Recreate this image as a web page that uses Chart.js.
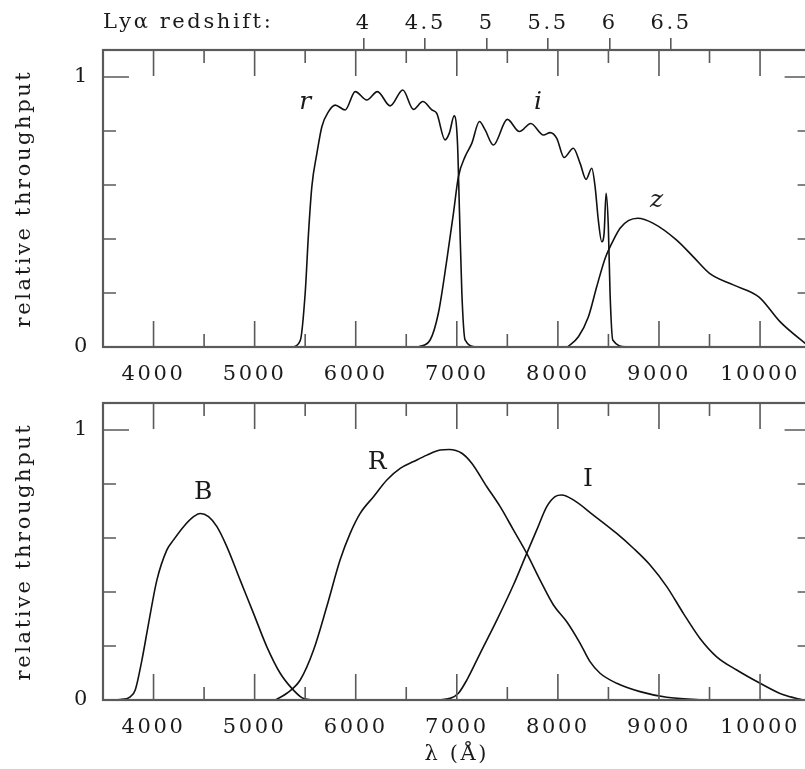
<!DOCTYPE html>
<html>
<head>
<meta charset="utf-8">
<script src="https://cdn.jsdelivr.net/npm/chart.js@4.4.0/dist/chart.umd.min.js"></script>
<style>
    html, body { margin: 0; padding: 0; background: #fff; overflow: hidden; width: 805px; height: 769px; }
    canvas { position: absolute; left: 0; }
    #top-chart { top: 0; }
    #bottom-chart { top: 385px; }
</style>
</head>
<body>
<canvas id="top-chart" width="830" height="385"></canvas>
<canvas id="bottom-chart" width="830" height="384"></canvas>
<script>
// SDSS-like filters (top panel)
var rWave = [5380, 5453, 5500, 5533, 5566, 5616, 5665, 5731, 5797, 5896, 5995, 6110, 6215, 6341, 6466, 6571, 6664, 6753, 6802, 6884, 6927, 6974, 7007, 7026, 7050, 7082, 7190];
var rThru = [0, 0.026, 0.199, 0.421, 0.594, 0.717, 0.816, 0.872, 0.896, 0.878, 0.946, 0.915, 0.946, 0.893, 0.952, 0.880, 0.909, 0.878, 0.865, 0.767, 0.793, 0.856, 0.754, 0.507, 0.2, 0.026, 0];

var iWave = [6621, 6736, 6818, 6901, 6967, 7016, 7082, 7148, 7224, 7280, 7362, 7500, 7619, 7732, 7857, 7923, 7989, 8061, 8153, 8220, 8279, 8335, 8368, 8400, 8434, 8457, 8477, 8499, 8516, 8543, 8681];
var iThru = [0, 0.026, 0.126, 0.322, 0.496, 0.631, 0.705, 0.754, 0.835, 0.804, 0.748, 0.843, 0.798, 0.828, 0.785, 0.794, 0.773, 0.702, 0.736, 0.68, 0.621, 0.662, 0.594, 0.47, 0.39, 0.42, 0.569, 0.446, 0.2, 0.026, 0];

var zWave = [8094, 8203, 8302, 8384, 8467, 8549, 8615, 8697, 8790, 8944, 9175, 9340, 9500, 9735, 9990, 10197, 10490];
var zThru = [0, 0.038, 0.112, 0.223, 0.328, 0.396, 0.44, 0.468, 0.477, 0.458, 0.396, 0.334, 0.273, 0.23, 0.185, 0.094, 0];

// Johnson-Cousins filters (bottom panel)
var bWave = [3505, 3670, 3770, 3819, 3885, 3951, 4033, 4132, 4198, 4297, 4396, 4462, 4544, 4627, 4725, 4857, 4989, 5121, 5253, 5368, 5467, 5550];
var bThru = [0, 0.002, 0.012, 0.037, 0.148, 0.284, 0.444, 0.556, 0.593, 0.642, 0.679, 0.691, 0.679, 0.642, 0.568, 0.444, 0.321, 0.197, 0.099, 0.043, 0.009, 0];

var bigRWave = [5203, 5319, 5451, 5583, 5714, 5846, 5945, 6044, 6176, 6308, 6440, 6572, 6704, 6835, 6925, 7050, 7148, 7297, 7429, 7560, 7692, 7824, 7956, 8088, 8220, 8318, 8417, 8582, 8813, 9077, 9450];
var bigRThru = [0, 0.025, 0.074, 0.185, 0.346, 0.519, 0.617, 0.691, 0.753, 0.815, 0.858, 0.883, 0.907, 0.926, 0.928, 0.914, 0.877, 0.79, 0.716, 0.63, 0.543, 0.444, 0.352, 0.29, 0.21, 0.142, 0.099, 0.062, 0.031, 0.01, 0];

var bigIWave = [6802, 6934, 7016, 7099, 7231, 7396, 7560, 7692, 7791, 7890, 7972, 8038, 8153, 8351, 8582, 8747, 8912, 9077, 9241, 9406, 9571, 9769, 10000, 10231, 10428];
var bigIThru = [0, 0.006, 0.025, 0.074, 0.173, 0.296, 0.426, 0.543, 0.63, 0.716, 0.753, 0.759, 0.741, 0.685, 0.617, 0.562, 0.5, 0.42, 0.321, 0.228, 0.16, 0.111, 0.062, 0.019, 0];

// axes
var xMajorTicks = [4000, 5000, 6000, 7000, 8000, 9000, 10000];
var xMinorTicks = [4500, 5500, 6500, 7500, 8500, 9500];
var yMajorTicks = [0, 1];
var yMinorTicks = [0.2, 0.4, 0.6, 0.8];
var redshiftTicks = [4, 4.5, 5, 5.5, 6, 6.5];
var lymanAlpha = 1216;

// curve names
var topNames = [
    { text: "r", x: 5500, y: 0.904, italic: true },
    { text: "i", x: 7804, y: 0.904, italic: true },
    { text: "z", x: 8977, y: 0.544, italic: true }
];
var bottomNames = [
    { text: "B", x: 4491, y: 0.767 },
    { text: "R", x: 6212, y: 0.881 },
    { text: "I", x: 8298, y: 0.815 }
];

var serif = "'DejaVu Serif', 'Liberation Serif', serif";
var fontSize = 21;
var inkColor = "#1a1a1a";
var frameColor = "#5a5a5a";
var textSpacing = "2.6px";

//fix an axis box to an exact size
function fixBox(size, isWidth) {
    return function(scale) {
        if (isWidth) {
            scale.width = size;
        } else {
            scale.height = size;
        }
        scale.paddingTop = 0;
        scale.paddingBottom = 0;
        scale.paddingLeft = 0;
        scale.paddingRight = 0;
    };
}

function setTicks(values) {
    return function(scale) {
        scale.ticks = values.map(function(v) { return { value: v }; });
    };
}

function plainNumber(value) {
    return String(value);
}

function curve(wave, thru) {
    return {
        data: wave.map(function(w, i) { return { x: w, y: thru[i] }; }),
        borderColor: "#111",
        borderWidth: 1.6,
        pointRadius: 0,
        fill: false,
        cubicInterpolationMode: "monotone"
    };
}

//wide lettering like the original plot
var spacingPlugin = {
    id: "spacing",
    beforeUpdate: function(chart) { chart.ctx.letterSpacing = textSpacing; },
    beforeDraw: function(chart) { chart.ctx.letterSpacing = textSpacing; }
};

//frame and inward ticks on all four sides
var framePlugin = {
    id: "frame",
    afterDatasetsDraw: function(chart) {
        var ctx = chart.ctx;
        var a = chart.chartArea;
        var xs = chart.scales.x;
        var ys = chart.scales.y;
        ctx.save();
        ctx.strokeStyle = frameColor;
        ctx.lineWidth = 1.6;
        ctx.beginPath();
        function xTick(v, len) {
            var px = xs.getPixelForValue(v);
            ctx.moveTo(px, a.bottom); ctx.lineTo(px, a.bottom - len);
            ctx.moveTo(px, a.top); ctx.lineTo(px, a.top + len);
        }
        function yTick(v, len) {
            var py = ys.getPixelForValue(v);
            ctx.moveTo(a.left, py); ctx.lineTo(a.left + len, py);
            ctx.moveTo(a.right, py); ctx.lineTo(a.right - len, py);
        }
        xMajorTicks.forEach(function(v) { xTick(v, 26); });
        xMinorTicks.forEach(function(v) { xTick(v, 13); });
        yMajorTicks.forEach(function(v) { yTick(v, 26); });
        yMinorTicks.forEach(function(v) { yTick(v, 13); });
        ctx.stroke();
        ctx.lineWidth = 2.2;
        ctx.strokeRect(a.left, a.top, a.right - a.left, a.bottom - a.top);
        ctx.restore();
    }
};

function namesPlugin(names, extra) {
    return {
        id: "names",
        afterDatasetsDraw: function(chart) {
            var ctx = chart.ctx;
            var xs = chart.scales.x;
            var ys = chart.scales.y;
            ctx.save();
            ctx.letterSpacing = "0px";
            ctx.fillStyle = inkColor;
            ctx.textAlign = "center";
            ctx.textBaseline = "middle";
            names.forEach(function(n) {
                ctx.font = (n.italic ? "italic " : "") + "25px " + serif;
                ctx.fillText(n.text, xs.getPixelForValue(n.x), ys.getPixelForValue(n.y));
            });
            if (extra) {
                extra(chart, ctx);
            }
            ctx.restore();
        }
    };
}

function baseScales(xHeight, xTitle) {
    return {
        x: {
            type: "linear",
            position: "bottom",
            min: 3500,
            max: 10500,
            afterBuildTicks: setTicks(xMajorTicks),
            afterFit: fixBox(xHeight, false),
            grid: { display: false, drawTicks: false },
            border: { display: false },
            ticks: { padding: 15, color: inkColor, font: { family: serif, size: fontSize }, maxRotation: 0, autoSkip: false, callback: plainNumber },
            title: {
                display: !!xTitle,
                text: xTitle || "",
                color: inkColor,
                font: { family: serif, size: fontSize },
                padding: { top: 0, bottom: 2 }
            }
        },
        y: {
            type: "linear",
            position: "left",
            min: 0,
            max: 1.1,
            afterBuildTicks: setTicks(yMajorTicks),
            afterFit: fixBox(103, true),
            grid: { display: false, drawTicks: false },
            border: { display: false },
            ticks: { padding: 13, color: inkColor, font: { family: serif, size: fontSize }, callback: plainNumber },
            title: {
                display: true,
                text: "relative throughput",
                color: inkColor,
                font: { family: serif, size: fontSize },
                padding: { top: 12, bottom: 0 }
            }
        }
    };
}

//init top chart
function initTopChart(el) {
    var scales = baseScales(38);
    scales.x2 = {
        type: "linear",
        position: "top",
        min: 3500,
        max: 10500,
        afterBuildTicks: setTicks(redshiftTicks.map(function(z) { return lymanAlpha * (1 + z); })),
        afterFit: fixBox(50, false),
        grid: { display: true, drawOnChartArea: false, drawTicks: true, tickLength: 12, color: frameColor, lineWidth: 1.6 },
        border: { display: false },
        ticks: {
            padding: 2,
            color: inkColor,
            font: { family: serif, size: fontSize },
            maxRotation: 0,
            autoSkip: false,
            callback: function(value, index) { return String(redshiftTicks[index]); }
        }
    };
    return new Chart(el, {
        type: "line",
        data: {
            datasets: [curve(rWave, rThru), curve(iWave, iThru), curve(zWave, zThru)]
        },
        options: {
            responsive: false,
            animation: false,
            layout: { padding: { left: 0, top: 0, right: 19.4, bottom: 0 } },
            plugins: { legend: { display: false }, tooltip: { enabled: false } },
            scales: scales
        },
        plugins: [spacingPlugin, framePlugin, namesPlugin(topNames, function(chart, ctx) {
            ctx.font = fontSize + "px " + serif;
            ctx.letterSpacing = textSpacing;
            ctx.textAlign = "left";
            ctx.fillText("Ly\u03b1 redshift:", chart.chartArea.left, chart.chartArea.top - 27);
        })]
    });
}

//init bottom chart
function initBottomChart(el) {
    return new Chart(el, {
        type: "line",
        data: {
            datasets: [curve(bWave, bThru), curve(bigRWave, bigRThru), curve(bigIWave, bigIThru)]
        },
        options: {
            responsive: false,
            animation: false,
            layout: { padding: { left: 0, top: 18, right: 19.4, bottom: 0 } },
            plugins: { legend: { display: false }, tooltip: { enabled: false } },
            scales: baseScales(69, "\u03bb (\u00c5)")
        },
        plugins: [spacingPlugin, framePlugin, namesPlugin(bottomNames)]
    });
}

initTopChart(document.getElementById("top-chart"));
initBottomChart(document.getElementById("bottom-chart"));
</script>
</body>
</html>
